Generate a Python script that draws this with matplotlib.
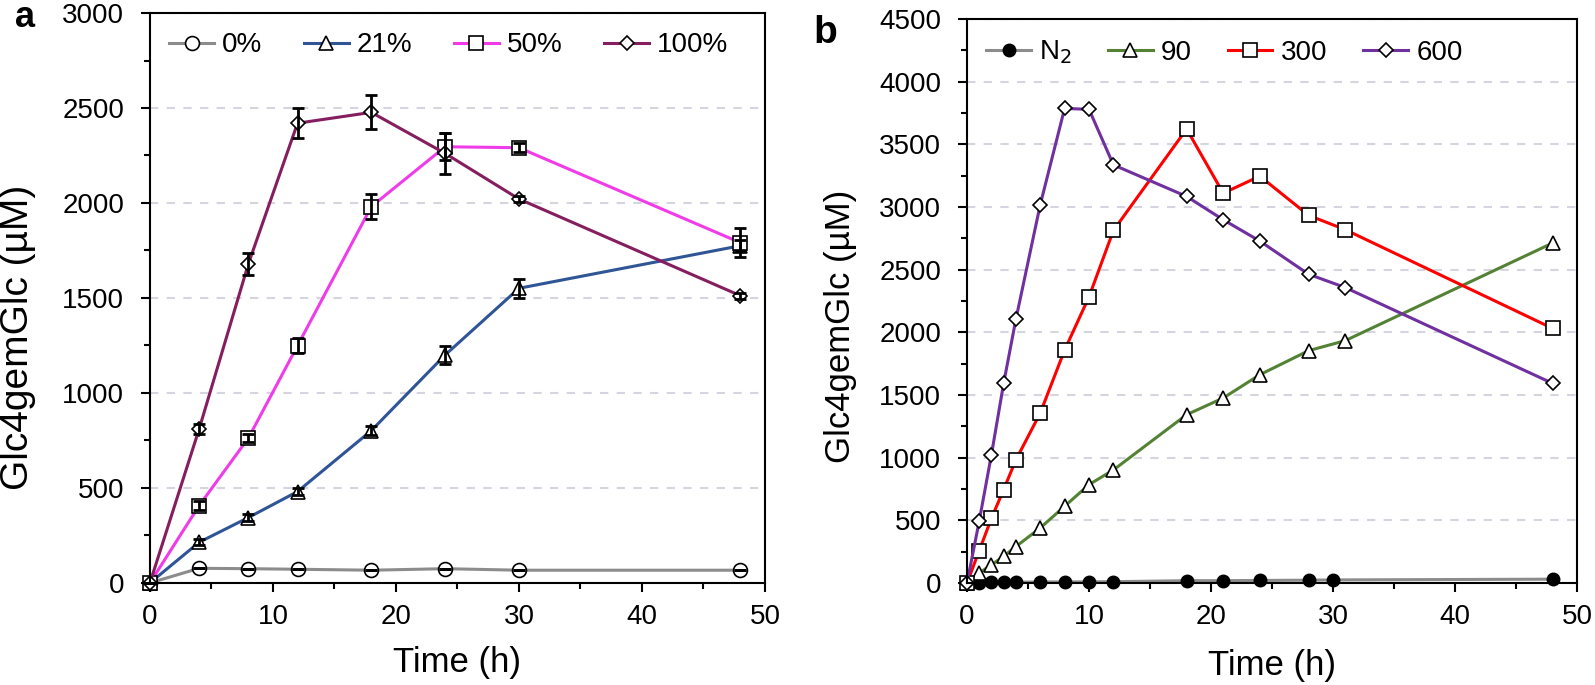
import matplotlib
matplotlib.use("Agg")
import matplotlib.pyplot as plt
from matplotlib.ticker import MultipleLocator

plt.rcParams['font.family'] = ['Liberation Sans', 'DejaVu Sans']

# panel a: O2 levels, time in h
time_a = [0, 4, 8, 12, 18, 24, 30, 48]
a_labels = ['0%', '21%', '50%', '100%']
a_0 = [0, 77, 75, 72, 67, 75, 67, 67]
a_21 = [0, 214, 344, 481, 802, 1200, 1551, 1775]
a_50 = [0, 407, 762, 1249, 1981, 2296, 2291, 1791]
a_100 = [0, 810, 1679, 2420, 2477, 2261, 2021, 1512]
err_0 = [0, 0, 0, 0, 0, 0, 0, 0]
err_21 = [0, 15, 20, 20, 25, 45, 50, 30]
err_50 = [0, 25, 20, 40, 65, 70, 25, 75]
err_100 = [0, 25, 60, 80, 90, 110, 15, 15]

# panel b
time_b = [0, 1, 2, 3, 4, 6, 8, 10, 12, 18, 21, 24, 28, 31, 48]
time_n2 = [0, 1, 2, 3, 4, 6, 8, 10, 12, 18, 21, 24, 28, 30, 48]
b_labels = ['N$_2$', '90', '300', '600']
b_n2 = [0, 3, 4, 5, 6, 8, 8, 9, 10, 18, 18, 20, 22, 24, 30]
b_90 = [0, 80, 144, 213, 290, 439, 612, 785, 902, 1343, 1476, 1662, 1854, 1934, 2713]
b_300 = [0, 258, 516, 745, 981, 1356, 1859, 2284, 2814, 3623, 3111, 3247, 2934, 2820, 2032]
b_600 = [0, 495, 1024, 1593, 2103, 3019, 3788, 3780, 3337, 3085, 2899, 2729, 2464, 2358, 1593]

fig = plt.figure(figsize=(15.95, 6.85), dpi=100)
ax1 = fig.add_axes([0.0940, 0.149, 0.3856, 0.832])
ax2 = fig.add_axes([0.6063, 0.149, 0.3824, 0.823])


def style_axis(ax, ymax, lab_x, lab_y, lab_size, xlab_y):
    ax.set_xlim(0, 50)
    ax.set_ylim(0, ymax)
    ax.xaxis.set_major_locator(MultipleLocator(10))
    ax.xaxis.set_minor_locator(MultipleLocator(5))
    ax.yaxis.set_major_locator(MultipleLocator(500))
    ax.yaxis.set_minor_locator(MultipleLocator(250))
    ax.tick_params(which='major', direction='out', length=6.5, width=1.5, labelsize=20)
    ax.tick_params(which='minor', direction='out', length=4.5, width=1.5)
    ax.tick_params(axis='x', pad=9)
    ax.tick_params(axis='y', pad=12)
    for s in ax.spines.values():
        s.set_linewidth(1.5)
    ax.yaxis.grid(True, which='major', linestyle=(0, (4, 4)), color='#d5d5df', linewidth=1.5)
    ax.set_axisbelow(True)
    ax.set_ylabel('Glc4gemGlc (µM)', fontsize=lab_size, va='center')
    ax.yaxis.set_label_coords(lab_x, lab_y)
    ax.set_xlabel('Time (h)', fontsize=25, va='center')
    ax.xaxis.set_label_coords(0.5, xlab_y)


mk = dict(markerfacecolor='white', markeredgecolor='black', markeredgewidth=1.2,
          linewidth=2.2, clip_on=False)

series_a = [(a_0, err_0, '#8c8c8c', 'o'), (a_21, err_21, '#2f5597', '^'),
            (a_50, err_50, '#f03ce8', 's'), (a_100, err_100, '#851e5e', 'D')]
lines_a = []
for vals, err, col, m in series_a:
    ms = 7.5 if m == 'D' else 10
    ln, = ax1.plot(time_a, vals, color=col, marker=m, markersize=ms, zorder=2, **mk)
    lines_a.append(ln)
# error bars sit on top of the open markers
for vals, err, col, m in series_a:
    ax1.errorbar(time_a, vals, yerr=err, fmt='none', ecolor='black', elinewidth=2,
                 capsize=4, capthick=2, zorder=3, clip_on=False)

lines_b = []
ln, = ax2.plot(time_n2, b_n2, color='#8c8c8c', marker='o', markerfacecolor='black',
               markeredgecolor='black', markersize=9, linewidth=2.2, clip_on=False)
lines_b.append(ln)
series_b = [(b_90, '#548235', '^'), (b_300, '#ff0000', 's'), (b_600, '#7030a0', 'D')]
for vals, col, m in series_b:
    ms = 7.5 if m == 'D' else 10
    ln, = ax2.plot(time_b, vals, color=col, marker=m, markersize=ms, **mk)
    lines_b.append(ln)

style_axis(ax1, 3000, -0.215, 0.43, 28, -0.14)
style_axis(ax2, 4500, -0.207, 0.455, 25, -0.147)

ax1.legend(lines_a, a_labels, loc='upper left', bbox_to_anchor=(0.0, 1.0), ncol=4,
           frameon=False, fontsize=20, handlelength=1.6, handletextpad=0.3,
           columnspacing=1.5, borderaxespad=0.3)
ax2.legend(lines_b, b_labels, loc='upper left', bbox_to_anchor=(0.0, 1.0), ncol=4,
           frameon=False, fontsize=20, handlelength=1.6, handletextpad=0.3,
           columnspacing=1.3, borderaxespad=0.3)

fig.text(0.0094, 0.9606, 'a', fontsize=26, fontweight='bold', va='baseline')
fig.text(0.5097, 0.937, 'b', fontsize=28, fontweight='bold', va='baseline')

fig.savefig('out.png', dpi=100)
